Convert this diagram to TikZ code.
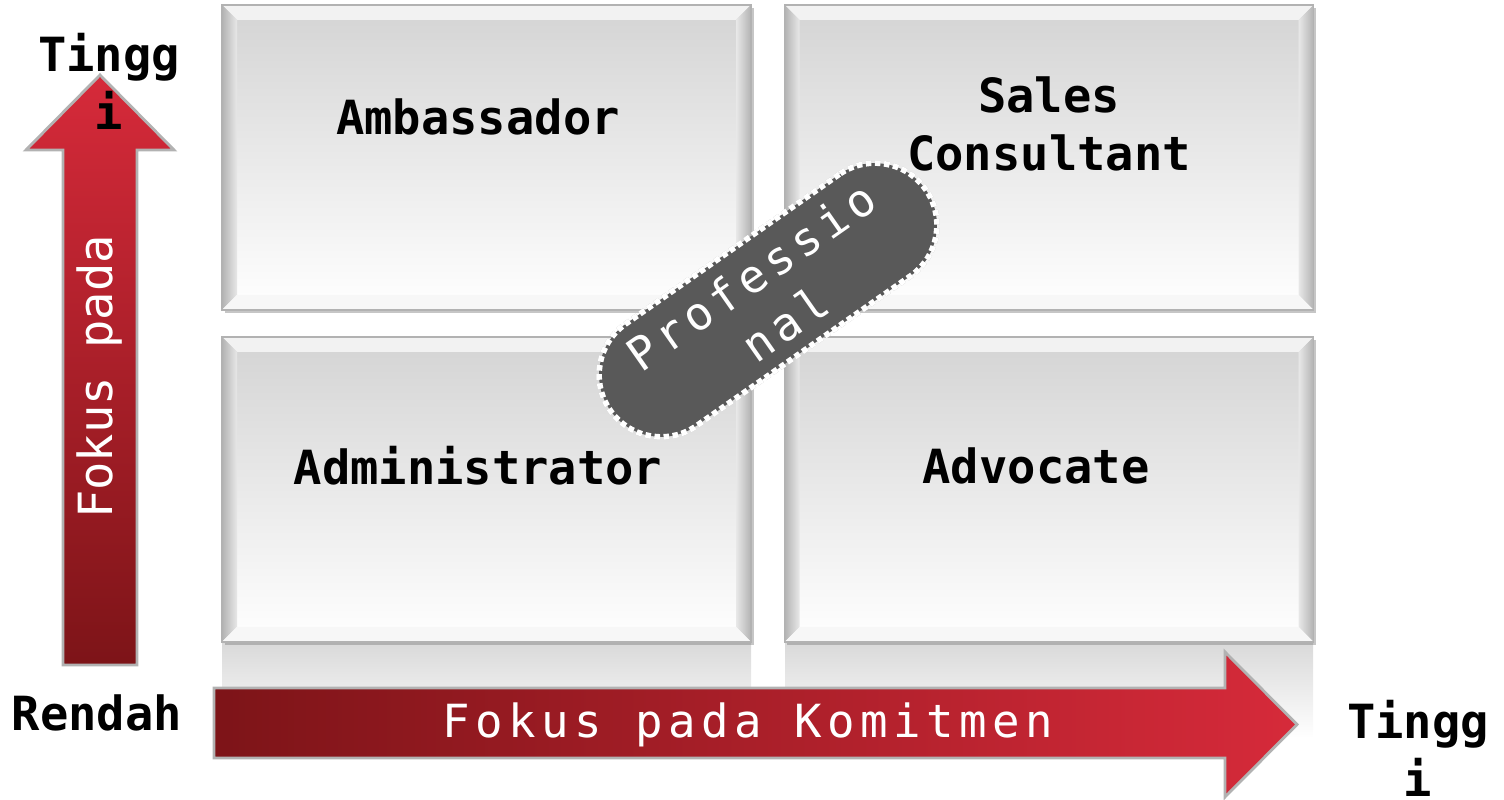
\documentclass[tikz,border=0pt]{standalone}
\usepackage{xcolor}
\usepackage{fontspec}
\usepackage{tikz}
\usetikzlibrary{calc, positioning, shadows}
\newfontfamily\quadfont{DejaVu Sans Mono}
\newfontfamily\widefont[LetterSpace=12]{DejaVu Sans Mono}
\definecolor{arrowred}{HTML}{D62A3A}
\definecolor{arrowdark}{HTML}{7D1418}
\newcommand{\bevw}{0.15cm}
\tikzset{
    quad/.style={
        rectangle, draw=gray!60, inner sep=0pt,
        minimum width=5.29cm, minimum height=3.05cm,
        top color=gray!34, bottom color=white,
        drop shadow={shadow xshift=0.025cm, shadow yshift=-0.035cm, opacity=0.45},
        path picture={
            \coordinate (nw) at (path picture bounding box.north west);
            \coordinate (ne) at (path picture bounding box.north east);
            \coordinate (sw) at (path picture bounding box.south west);
            \coordinate (se) at (path picture bounding box.south east);
            \fill[gray!10] (nw) -- (ne) -- ($(ne)+(-\bevw,-\bevw)$) -- ($(nw)+(\bevw,-\bevw)$) -- cycle;
            \shade[left color=gray!60, right color=gray!18] (nw) -- ($(nw)+(\bevw,-\bevw)$) -- ($(sw)+(\bevw,\bevw)$) -- (sw) -- cycle;
            \shade[left color=gray!18, right color=gray!60] (ne) -- ($(ne)+(-\bevw,-\bevw)$) -- ($(se)+(-\bevw,\bevw)$) -- (se) -- cycle;
            \fill[gray!6] (sw) -- ($(sw)+(\bevw,\bevw)$) -- ($(se)+(-\bevw,\bevw)$) -- (se) -- cycle;
        }
    },
    mirror/.style={top color=gray!30, bottom color=white, draw=none},
    bigarrow/.style={draw=gray!60, line width=0.8pt},
    quadtext/.style={font=\quadfont\bfseries\fontsize{13.4}{16.5}\selectfont, align=center, text=black},
    axistext/.style={font=\quadfont\fontsize{13.4}{16.5}\selectfont, text=white},
    widetext/.style={font=\widefont\fontsize{13}{16.5}\selectfont, text=white, align=center},
    pill/.style={rectangle, rounded corners=0.62cm, fill=black!65, minimum width=3.85cm, minimum height=1.24cm,
        preaction={draw=gray!50, line width=1.6pt}, draw=white, densely dotted, line width=1.6pt}
}
\begin{document}
\begin{tikzpicture}
    \useasboundingbox (0,0) rectangle (15.04,8);

    % Reflection under the lower boxes
    \shade[mirror] (2.22,1.58) rectangle (7.51,0.62);
    \shade[mirror] (7.85,1.58) rectangle (13.13,0.62);

    % Boxes
    \node[quad] (ambassador) at (4.865,6.425) {};
    \node[quad] (consultant) at (10.49,6.425) {};
    \node[quad] (administrator) at (4.865,3.105) {};
    \node[quad] (advocate) at (10.49,3.105) {};

    % Axes arrows
    \shade[bigarrow, top color=arrowred, bottom color=arrowdark]
        (0.63,1.35) -- (0.63,6.5) -- (0.26,6.5) -- (1.0,7.25) -- (1.74,6.5) -- (1.37,6.5) -- (1.37,1.35) -- cycle;
    \shade[bigarrow, left color=arrowdark, right color=arrowred]
        (2.14,0.42) -- (2.14,1.12) -- (12.25,1.12) -- (12.25,1.48) -- (12.97,0.755) -- (12.25,0.03) -- (12.25,0.42) -- cycle;

    % Box labels
    \node[quadtext] (ambT) at (4.78,6.83) {Ambassador};
    \node[quadtext] (conT) at (10.49,6.765) {Sales\\Consultant};
    \node[quadtext] (admT) at (4.78,3.34) {Administrator};
    \node[quadtext] (advT) at (10.36,3.34) {Advocate};

    % Professional badge
    \node[pill, rotate=35] (prof) at (7.68,5.0) {};
    \node[widetext, rotate=35] (profT) at (prof.center) {Professio\\nal};

    % Axis labels
    \node[axistext, rotate=90] (yaxis) at (1.0,4.23) {Fokus pada};
    \node[widetext] (xaxis) at (7.48,0.75) {Fokus pada Komitmen};
    \node[quadtext] (highY) at (1.09,7.19) {Tingg\\i};
    \node[quadtext] (low) at (0.97,0.87) {Rendah};
    \node[quadtext] (highX) at (14.18,0.52) {Tingg\\i};
\end{tikzpicture}
\end{document}
